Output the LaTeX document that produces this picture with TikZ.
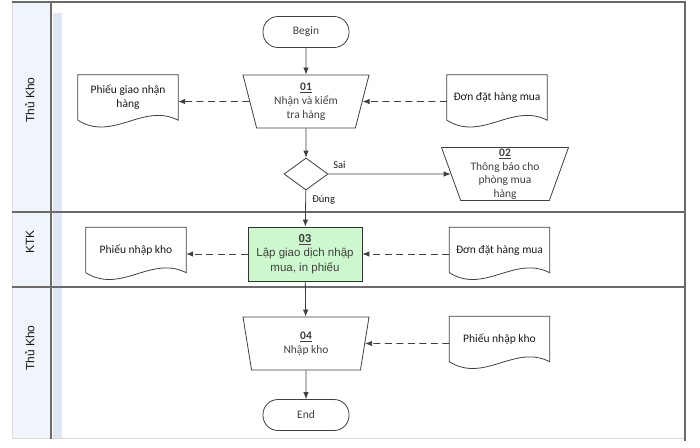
\documentclass[tikz,border=0pt]{standalone}
\usepackage{fontspec}
\setmainfont{Carlito}
\newfontfamily\arialfont{Liberation Sans}
\usetikzlibrary{shapes.geometric,arrows.meta,positioning}
\definecolor{frameGray}{HTML}{6A6A6A}
\definecolor{lineGray}{HTML}{404040}
\definecolor{laneBlue}{HTML}{F0F4FB}
\definecolor{stripBlue}{HTML}{DFE7F5}
\definecolor{procGreen}{HTML}{CDF7CD}
\begin{document}
\begin{tikzpicture}[x=1pt,y=-1pt]
\tikzstyle{every node}+=[font=\fontsize{11.5}{14}\selectfont, text=black!90]
\tikzstyle{frameline}=[frameGray, line width=1.1pt]
\tikzstyle{shapeline}=[lineGray, line width=0.8pt]
\tikzstyle{lanetext}=[rotate=90, font=\arialfont\fontsize{12}{14}\selectfont]
\tikzstyle{terminal}=[shapeline, draw, rounded corners=15pt, minimum width=86pt, minimum height=31pt]
\tikzstyle{manual}=[shapeline, draw, trapezium, shape border rotate=180, trapezium stretches body,
  trapezium angle=70, minimum width=126pt, minimum height=53pt, inner sep=0pt, align=center]
\tikzstyle{process}=[shapeline, draw=black!80, fill=procGreen, minimum width=114pt, minimum height=54pt,
  inner sep=0pt, align=center, font=\arialfont\fontsize{11.5}{14.5}\selectfont]
\tikzstyle{decision}=[shapeline, draw, diamond, minimum width=44pt, minimum height=32pt, inner sep=0pt]
\tikzstyle{docbox}=[minimum width=100pt, minimum height=45pt, inner sep=0pt, align=center]
\tikzstyle{flow}=[shapeline, -{Latex[length=7pt,width=5.5pt]}]
\tikzstyle{dataflow}=[shapeline, dash pattern=on 7pt off 4.5pt, -{Latex[length=7pt,width=5.5pt]}]
\tikzstyle{branch}=[font=\fontsize{10.5}{12}\selectfont]
\useasboundingbox (0,0) rectangle (700,447);
\fill[white] (0,0) rectangle (700,447);
\fill[laneBlue] (12,2) rectangle (51,438);
\fill[stripBlue] (53,13) rectangle (62,438);
\draw[black!12] (12,2) -- (12,438);
\draw[black!15, line width=0.8pt] (12,438) -- (685,438);
\draw[frameline] (12,2) -- (685,2) -- (685,441);
\draw[frameline] (51,2) -- (51,439);
\draw[frameline] (12,212) -- (685,212);
\draw[frameline] (12,287) -- (685,287);
\node[lanetext] (lane1) at (30,100) {Thủ Kho};
\node[lanetext] (lane2) at (30,242) {KTK};
\node[lanetext] (lane3) at (30,348) {Thủ Kho};
\node[terminal] (begin) at (306,32) {Begin};
\node[manual] (s01) at (306,101.5) {\textbf{\underline{01}}\\Nhận và kiểm\\tra hàng};
\node[docbox] (pgn) at (128,97.5) {Phiếu giao nhận\\hàng};
\node[docbox] (dhm1) at (497,97.5) {Đơn đặt hàng mua};
\node[decision] (dec) at (306,174) {};
\node[manual, trapezium angle=69, minimum width=127pt, font=\fontsize{11.5}{13.5}\selectfont] (s02) at (505,174)
  {\textbf{\underline{02}}\\Thông báo cho\\phòng mua\\hàng};
\node[process] (s03) at (305,254) {\textbf{\underline{03}}\\Lập giao dịch nhập\\mua, in phiếu};
\node[docbox] (pnk1) at (136,250) {Phiếu nhập kho};
\node[docbox] (dhm2) at (499.5,250) {Đơn đặt hàng mua};
\node[manual] (s04) at (306,343.5) {\textbf{\underline{04}}\\Nhập kho};
\node[docbox] (pnk2) at (499.5,339) {Phiếu nhập kho};
\node[terminal] (end) at (306,415) {End};
\foreach \d in {pgn,dhm1,pnk1,dhm2,pnk2}
  \draw[shapeline] (\d.south west) -- (\d.north west) -- (\d.north east) -- (\d.south east)
    .. controls +(-35,-18) and +(35,22) .. (\d.south west);
\draw[flow] (begin) -- (s01);
\draw[flow] (s01) -- (dec);
\draw[flow] (dec) -- node[branch, pos=0.09, above, yshift=2pt] {Sai} (s02);
\draw[flow] (dec) -- node[branch, pos=0.25, right, xshift=3pt] {Đúng} (s03);
\draw[flow] (s03) -- (s04);
\draw[flow] (s04) -- (end);
\draw[dataflow] (dhm1.west |- s01) -- (s01);
\draw[dataflow] (s01) -- (pgn.east |- s01);
\draw[dataflow] (dhm2.west |- s03) -- (s03);
\draw[dataflow] (s03) -- (pnk1.east |- s03);
\draw[dataflow] (pnk2.west |- s04) -- (s04);
\end{tikzpicture}
\end{document}
